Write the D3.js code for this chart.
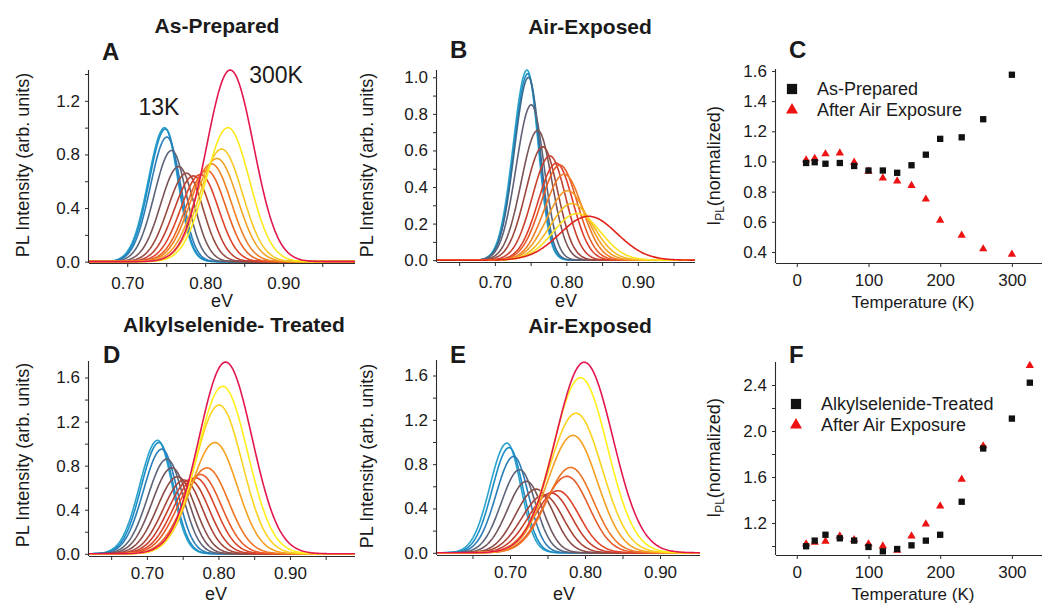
<!DOCTYPE html>
<html>
<head>
<meta charset="utf-8">
<script src="https://cdn.jsdelivr.net/npm/d3@7/dist/d3.min.js"></script>
<style>
body { margin: 0; background: #fff; }
text { font-family: "Liberation Sans", Arial, Helvetica, sans-serif; fill: #1a1a1a; }
</style>
</head>
<body>
<svg id="fig" width="1042" height="603"></svg>
<script>
/************************************ Data *******************************/
// temperatures (K) of the spectra
var tempsAB = [13, 25, 40, 60, 80, 100, 120, 140, 160, 180, 200, 230, 260, 300];
var tempsDE = [13, 25, 40, 60, 80, 100, 120, 140, 160, 180, 200, 230, 260, 300, 325];

// panel A : peak energy (eV), peak height, gaussian width (eV)
var peakA   = [0.748, 0.749, 0.751, 0.757, 0.766, 0.776, 0.785, 0.794, 0.802, 0.808, 0.815, 0.821, 0.829, 0.832];
var heightA = [1.00, 0.99, 0.93, 0.83, 0.71, 0.66, 0.64, 0.65, 0.68, 0.73, 0.77, 0.84, 1.00, 1.43];
var widthA  = [0.0185, 0.0185, 0.019, 0.020, 0.021, 0.022, 0.023, 0.024, 0.025, 0.026, 0.027, 0.027, 0.028, 0.030];

// panel B
var peakB   = [0.745, 0.746, 0.747, 0.751, 0.760, 0.767, 0.777, 0.786, 0.791, 0.797, 0.802, 0.808, 0.815, 0.831];
var heightB = [1.04, 1.02, 1.00, 0.85, 0.71, 0.62, 0.57, 0.53, 0.52, 0.47, 0.38, 0.31, 0.255, 0.24];
var widthB  = [0.017, 0.017, 0.0175, 0.019, 0.021, 0.022, 0.023, 0.024, 0.025, 0.026, 0.028, 0.030, 0.033, 0.040];

// panel D
var peakD   = [0.715, 0.717, 0.721, 0.728, 0.735, 0.743, 0.752, 0.760, 0.768, 0.775, 0.784, 0.795, 0.801, 0.806, 0.810];
var heightD = [1.03, 1.01, 0.95, 0.86, 0.78, 0.70, 0.67, 0.67, 0.69, 0.72, 0.78, 1.01, 1.35, 1.52, 1.74];
var widthD  = [0.022, 0.022, 0.023, 0.024, 0.025, 0.026, 0.027, 0.028, 0.029, 0.030, 0.031, 0.032, 0.033, 0.035, 0.037];

// panel E
var peakE   = [0.696, 0.699, 0.705, 0.713, 0.722, 0.735, 0.745, 0.755, 0.764, 0.776, 0.781, 0.784, 0.788, 0.794, 0.799];
var heightE = [0.99, 0.95, 0.87, 0.75, 0.645, 0.575, 0.52, 0.54, 0.56, 0.69, 0.77, 1.06, 1.26, 1.58, 1.72];
var widthE  = [0.020, 0.020, 0.021, 0.022, 0.023, 0.025, 0.027, 0.028, 0.029, 0.030, 0.031, 0.033, 0.035, 0.036, 0.038];

// line colours, low T -> high T
var colorsA  = ["#2aa3cc", "#1b8ec6", "#2a7db8", "#5c6479", "#7a5558", "#9a4a40", "#c2402f", "#de442b", "#ea6226", "#ef8024", "#f4a222", "#f8c826", "#fde91b", "#e3174d"];
var colorsB  = ["#2aa3cc", "#1b8ec6", "#3a6a90", "#5f6278", "#7a5558", "#a0463c", "#c8402e", "#de3f2a", "#e85a28", "#ee7a24", "#f39a22", "#f6b822", "#fce21e", "#e2231c"];
var colorsDE = ["#2aa3cc", "#1b8ec6", "#2a7db8", "#5c6479", "#72565c", "#8c4b45", "#a84536", "#c83f2d", "#de442b", "#e85a28", "#ee7424", "#f5a020", "#fbd21f", "#fff01a", "#e3174d"];

// panel C : integrated PL vs temperature
var tempsC      = [13, 25, 40, 60, 80, 100, 120, 140, 160, 180, 200, 230, 260, 300];
var cAsPrepared = [0.99, 0.995, 0.985, 0.99, 0.97, 0.94, 0.94, 0.925, 0.975, 1.045, 1.15, 1.16, 1.28, 1.575];
var cAfterAir   = [1.01, 1.02, 1.05, 1.055, 0.995, 0.935, 0.89, 0.87, 0.84, 0.75, 0.61, 0.51, 0.42, 0.385];

// panel F
var tempsF    = [13, 25, 40, 60, 80, 100, 120, 140, 160, 180, 200, 230, 260, 300, 325];
var fTreated  = [0.998, 1.047, 1.098, 1.067, 1.047, 0.992, 0.954, 0.974, 1.006, 1.047, 1.098, 1.385, 1.848, 2.108, 2.42];
var fAfterAir = [1.018, 1.032, 1.04, 1.087, 1.055, 1.018, 1.0, 0.963, 1.087, 1.19, 1.347, 1.58, 1.87, null, 2.568];

/************************************ Helpers *******************************/
var svg = d3.select("#fig");
var axisColor = "#2b2b2b";

function styleAxis(g) {
	g.select(".domain").attr("stroke", axisColor).attr("stroke-width", 1.1);
	g.selectAll(".tick line").attr("stroke", axisColor).attr("stroke-width", 1);
	g.selectAll(".tick text").attr("fill", "#1a1a1a").style("font-size", "17px")
		.style("font-family", "'Liberation Sans', Arial, sans-serif");
}

function drawAxes(p, x, y) {
	var xFmt = p.xFmt, yFmt = p.yFmt;
	var gx = svg.append("g").attr("transform", "translate(0," + p.bottom + ")")
		.call(d3.axisBottom(x).tickValues(p.xMajor.concat(p.xMinor)).tickSize(4).tickSizeOuter(0).tickPadding(p.xPad || 10)
			.tickFormat(function(d){ return p.xMajor.indexOf(d) >= 0 ? xFmt(d) : ""; }));
	styleAxis(gx);
	var gy = svg.append("g").attr("transform", "translate(" + p.left + ",0)")
		.call(d3.axisLeft(y).tickValues(p.yMajor.concat(p.yMinor)).tickSize(4).tickSizeOuter(0).tickPadding(5)
			.tickFormat(function(d){ return p.yMajor.indexOf(d) >= 0 ? yFmt(d) : ""; }));
	styleAxis(gy);
	// axis lines span the panel frame
	gx.select(".domain").attr("d", "M" + p.left + ",0.5H" + p.right);
	gy.select(".domain").attr("d", "M-0.5," + p.bottom + "V" + p.top);
}

function spectraPanel(p) {
	var x = d3.scaleLinear().domain(p.xDom).range([p.left, p.right]);
	var y = d3.scaleLinear().domain(p.yDom).range([p.bottom, p.top]);
	var es = d3.range(p.xDom[0], p.xDom[1], 0.0015).concat([p.xDom[1]]);
	var line = d3.line().x(function(d){ return x(d[0]); }).y(function(d){ return y(d[1]); });
	var n = p.peaks.length;
	var g = svg.append("g");
	p.peaks.forEach(function(c, i) {
		// cold spectra have a longer low-energy tail
		var cold = 1 - i / (n - 1);
		var sL = p.widths[i] * (1 + 0.14 * cold), sR = p.widths[i] * (1 - 0.08 * cold);
		var pts = es.map(function(e) {
			var u = (e - c) / (e < c ? sL : sR);
			return [e, p.heights[i] * Math.exp(-0.5 * u * u)];
		});
		g.append("path").attr("d", line(pts)).attr("fill", "none")
			.attr("stroke", p.colors[i]).attr("stroke-width", 1.6).attr("stroke-linejoin", "round");
	});
	drawAxes(p, x, y);
}

function scatterPanel(p) {
	var x = d3.scaleLinear().domain(p.xDom).range([p.left, p.right]);
	var y = d3.scaleLinear().domain(p.yDom).range([p.bottom, p.top]);
	drawAxes(p, x, y);
	var sq = d3.symbol().type(d3.symbolSquare).size(40);
	var tri = d3.symbol().type(d3.symbolTriangle).size(30);
	var g = svg.append("g");
	p.temps.forEach(function(t, i) {
		if (p.tri[i] != null)
			g.append("path").attr("d", tri()).attr("fill", "#ee1111")
				.attr("transform", "translate(" + x(t) + "," + y(p.tri[i]) + ")");
	});
	p.temps.forEach(function(t, i) {
		if (p.sq[i] != null)
			g.append("path").attr("d", sq()).attr("fill", "#111")
				.attr("transform", "translate(" + x(t) + "," + y(p.sq[i]) + ")");
	});
	// legend
	var lg = svg.append("g");
	lg.append("path").attr("d", d3.symbol().type(d3.symbolSquare).size(105)())
		.attr("fill", "#111").attr("transform", "translate(" + p.legX + "," + p.legY + ")");
	lg.append("path").attr("d", d3.symbol().type(d3.symbolTriangle).size(62)())
		.attr("fill", "#ee1111").attr("transform", "translate(" + p.legX + "," + (p.legY + 21) + ")");
	lg.append("text").attr("x", p.legX + 25).attr("y", p.legY + 6).style("font-size", "18px").text(p.legSq);
	lg.append("text").attr("x", p.legX + 25).attr("y", p.legY + 27).style("font-size", "18px").text(p.legTri);
}

function label(txt, x, y, size, bold, anchor) {
	return svg.append("text").attr("x", x).attr("y", y)
		.style("font-size", size + "px").style("font-weight", bold ? "bold" : "normal")
		.attr("text-anchor", anchor || "middle").text(txt);
}

function vlabel(txt, x, y) {
	return svg.append("text").attr("transform", "translate(" + x + "," + y + ") rotate(-90)")
		.attr("text-anchor", "middle").style("font-size", "18px").text(txt);
}

function iplLabel(x, y) {
	var t = svg.append("text").attr("transform", "translate(" + x + "," + y + ") rotate(-90)")
		.attr("text-anchor", "middle").style("font-size", "18px");
	t.append("tspan").text("I");
	t.append("tspan").attr("dy", 4).style("font-size", "12px").text("PL");
	t.append("tspan").attr("dy", -4).text("(normalized)");
}

/************************************ Panels *******************************/
var f1 = d3.format(".1f"), f2 = d3.format(".2f"), f0 = d3.format("d");

spectraPanel({ left: 89, right: 355, top: 70, bottom: 263, xDom: [0.651, 0.992], yDom: [-0.01, 1.43],
	xMajor: [0.70, 0.80, 0.90], xMinor: [0.75, 0.85, 0.95], yMajor: [0, 0.4, 0.8, 1.2], yMinor: [0.2, 0.6, 1.0, 1.4],
	xFmt: f2, yFmt: f1, peaks: peakA, heights: heightA, widths: widthA, colors: colorsA });

spectraPanel({ left: 437, right: 695, top: 70, bottom: 262, xDom: [0.619, 0.98], yDom: [-0.01, 1.04],
	xMajor: [0.70, 0.80, 0.90], xMinor: [0.65, 0.75, 0.85, 0.95], yMajor: [0, 0.2, 0.4, 0.6, 0.8, 1.0], yMinor: [0.1, 0.3, 0.5, 0.7, 0.9],
	xFmt: f2, yFmt: f1, peaks: peakB, heights: heightB, widths: widthB, colors: colorsB });

spectraPanel({ left: 89, right: 355, top: 361, bottom: 556, xDom: [0.619, 0.991], yDom: [-0.02, 1.75],
	xMajor: [0.70, 0.80, 0.90], xMinor: [0.65, 0.75, 0.85, 0.95], yMajor: [0, 0.4, 0.8, 1.2, 1.6], yMinor: [0.2, 0.6, 1.0, 1.4], xPad: 7,
	xFmt: f2, yFmt: f1, peaks: peakD, heights: heightD, widths: widthD, colors: colorsDE });

spectraPanel({ left: 437, right: 700, top: 360, bottom: 555, xDom: [0.6027, 0.9533], yDom: [-0.02, 1.74],
	xMajor: [0.70, 0.80, 0.90], xMinor: [0.65, 0.75, 0.85], yMajor: [0, 0.4, 0.8, 1.2, 1.6], yMinor: [0.2, 0.6, 1.0, 1.4], xPad: 7,
	xFmt: f2, yFmt: f1, peaks: peakE, heights: heightE, widths: widthE, colors: colorsDE });

scatterPanel({ left: 776, right: 1042, top: 69, bottom: 263, xDom: [-29, 342], yDom: [0.327, 1.613],
	xMajor: [0, 100, 200, 300], xMinor: [], yMajor: [0.4, 0.6, 0.8, 1.0, 1.2, 1.4, 1.6], yMinor: [], xPad: 7,
	xFmt: f0, yFmt: f1, temps: tempsC, sq: cAsPrepared, tri: cAfterAir,
	legX: 792, legY: 89, legSq: "As-Prepared", legTri: "After Air Exposure" });

scatterPanel({ left: 776, right: 1042, top: 362, bottom: 555, xDom: [-29, 342], yDom: [0.922, 2.6],
	xMajor: [0, 100, 200, 300], xMinor: [], yMajor: [1.2, 1.6, 2.0, 2.4], yMinor: [1.0, 1.4, 1.8, 2.2], xPad: 7,
	xFmt: f0, yFmt: f1, temps: tempsF, sq: fTreated, tri: fAfterAir,
	legX: 796, legY: 404, legSq: "Alkylselenide-Treated", legTri: "After Air Exposure" });

/************************************ Text *******************************/
label("As-Prepared", 217, 33, 21, true);
label("Air-Exposed", 590, 34, 21, true);
label("Alkylselenide- Treated", 234, 332, 21, true);
label("Air-Exposed", 590, 333, 21, true);

label("A", 102, 60, 24, true, "start");
label("B", 450, 58, 24, true, "start");
label("C", 789, 58, 24, true, "start");
label("D", 103, 363, 24, true, "start");
label("E", 450, 363, 24, true, "start");
label("F", 789, 363, 24, true, "start");

label("13K", 159, 115, 23, false);
label("300K", 276, 83, 23, false);

label("eV", 222, 307, 18, false);
label("eV", 566, 307, 18, false);
label("eV", 216, 600, 18, false);
label("eV", 564, 600, 18, false);
label("Temperature (K)", 913, 308, 17, false);
label("Temperature (K)", 913, 600, 17, false);

vlabel("PL Intensity (arb. units)", 29, 165);
vlabel("PL Intensity (arb. units)", 373, 165);
vlabel("PL Intensity (arb. units)", 29, 455);
vlabel("PL Intensity (arb. units)", 373, 456);
iplLabel(720, 166);
iplLabel(720, 458);
</script>
</body>
</html>
